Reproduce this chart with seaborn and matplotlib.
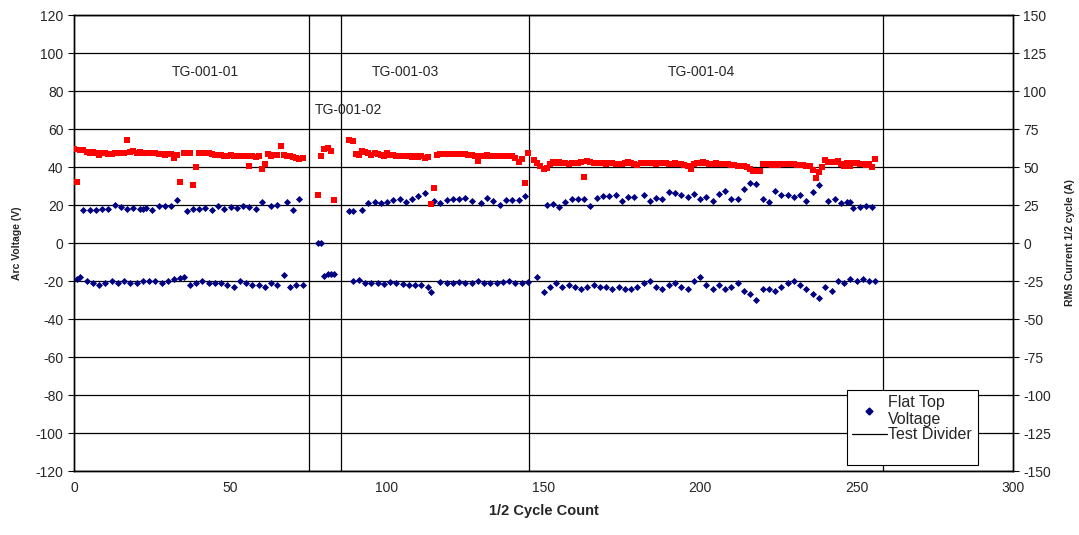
import numpy as np
import pandas as pd
import seaborn as sns
import matplotlib.pyplot as plt
from matplotlib.lines import Line2D
from matplotlib.patches import Rectangle

# Flat top voltage, positive half cycles (V)
pos_x = [3, 5, 7, 9, 11, 13, 15, 17, 19, 21, 22, 23, 25, 27, 29, 31, 33, 36, 38, 40,
         42, 44, 46, 48, 50, 52, 54, 56, 58, 60, 63, 65, 68, 70, 72,
         78, 79,
         88, 89, 92, 94, 96, 98, 100, 102, 104, 106, 108, 110, 112, 115, 117, 119, 121,
         123, 125, 127, 130, 132, 134, 136, 138, 140, 142, 144,
         151, 153, 155, 157, 159, 161, 163, 165, 167, 169, 171, 173, 175, 177, 179, 182,
         184, 186, 188, 190, 192, 194, 196, 198, 200, 202, 204, 206, 208, 210, 212, 214,
         216, 218, 220, 222, 224, 226, 228, 230, 232, 234, 236, 238, 241, 243, 245, 247,
         248, 249, 251, 253, 255]
pos_v = [17.4, 17.4, 17.4, 17.7, 18.0, 20.0, 19.0, 17.7, 18.5, 17.7, 17.9, 18.5, 17.5,
         19.5, 19.6, 19.5, 22.6, 17.0, 17.7, 17.9, 18.3, 17.4, 19.6, 18.0, 18.8, 18.6,
         19.6, 19.0, 17.9, 21.6, 19.5, 20.0, 21.6, 17.4, 23.0,
         0.0, 0.0,
         17.0, 17.0, 17.5, 21.0, 21.6, 20.9, 21.4, 22.5, 23.0, 21.8, 23.0, 25.0, 26.5,
         22.0, 21.0, 22.8, 23.0, 23.0, 23.6, 22.0, 21.0, 23.6, 22.3, 19.8, 22.8, 22.8,
         22.8, 24.5,
         20.0, 20.7, 18.8, 21.4, 23.0, 23.2, 23.4, 19.3, 23.7, 24.7, 24.9, 25.3, 22.1,
         24.2, 24.2, 25.3, 22.3, 23.7, 23.4, 26.8, 26.1, 25.3, 24.0, 25.8, 23.2, 24.2,
         22.1, 26.0, 27.4, 23.2, 23.2, 28.5, 31.4, 30.9, 23.0, 21.6, 27.4, 25.4, 25.4,
         24.0, 25.3, 22.3, 26.8, 30.7, 21.9, 23.0, 20.9, 21.6, 21.6, 18.3, 18.8, 19.7,
         19.1]

# Flat top voltage, negative half cycles (V)
neg_x = [1, 2, 4, 6, 8, 10, 12, 14, 16, 18, 20, 22, 24, 26, 28, 30, 32, 34, 35, 37, 39,
         41, 43, 45, 47, 49, 51, 53, 55, 57, 59, 61, 63, 65, 67, 69, 71, 73,
         80, 81, 82, 83,
         89, 91, 93, 95, 97, 99, 101, 103, 105, 107, 109, 111, 113, 114, 117, 119, 121,
         123, 125, 127, 129, 131, 133, 135, 137, 139, 141, 143, 145,
         148, 150, 152, 154, 156, 158, 160, 162, 164, 166, 168, 170, 172, 174, 176, 178,
         180, 182, 184, 186, 188, 190, 192, 194, 196, 198, 200, 202, 204, 206, 208, 210,
         212, 214, 216, 218, 220, 222, 224, 226, 228, 230, 232, 234, 236, 238, 240, 242,
         244, 246, 248, 250, 252, 254, 256]
neg_v = [-19, -18, -20, -21, -22, -21, -20, -21, -20, -21, -21, -20, -20, -20, -21, -20,
         -19, -18.5, -18, -22, -21, -20, -21, -21, -21, -22, -23, -20, -21, -22, -22, -23,
         -21, -22, -17, -23, -22, -22,
         -17.2, -16.5, -16.3, -16.3,
         -20, -19.5, -21, -21, -21, -21.5, -20.5, -21, -21.5, -22, -22, -22, -23, -26,
         -20.5, -21, -21, -20.5, -21, -21, -20, -21, -21, -21, -20.5, -20, -21, -21, -20.5,
         -18, -26, -23, -21, -23, -22, -23, -24, -23, -22, -23, -23, -24, -23, -24, -24,
         -23, -21, -20, -23, -24, -22, -21, -23, -24, -20, -18, -22, -24, -22, -24, -23,
         -21, -25, -27, -30, -24, -24, -25, -23, -21, -20, -22, -24, -27, -29, -23, -25,
         -20, -21, -19, -20, -19, -20, -20]

# RMS current per half cycle (A), one value per half cycle in each test
rms_start = [0, 78, 88, 147]
rms_a = [
    [62, 40, 61, 61.5, 60, 59, 60, 59.5, 58, 59, 59, 58.5, 58.5, 59, 59, 59.5, 59, 68,
     60, 60.5, 59.5, 60, 59, 59.5, 59, 59.5, 59, 58.5, 58.5, 58, 58.5, 58.5, 56, 58, 40,
     59.5, 59, 59.5, 38, 50, 59.5, 59, 59.5, 59, 58.5, 58, 58, 58, 57.5, 57.5, 58, 57.5,
     57.5, 57, 57, 57, 50.5, 57, 56.5, 57, 49, 52, 58.5, 57.5, 58, 58, 64, 58, 57, 57.5,
     56.5, 56, 55.5, 56],
    [31.6, 57.5, 62, 62.7, 60.7, 28.3],
    [68, 67, 58.5, 58, 60.6, 60, 59.5, 58, 59, 58.5, 58, 57.5, 59, 58, 58, 57.5, 57.5, 57,
     57, 57, 56.5, 57, 56.5, 57.5, 56, 56.5, 25.5, 36, 58, 58.5, 58.5, 58.5, 58.5, 58.5,
     58.5, 58.5, 58.5, 58.5, 58, 58, 57.5, 54, 57, 57.5, 58, 57.5, 57.5, 57.5, 57.5, 57.5,
     57, 57, 57.5, 56, 53.5, 55.5, 39.5, 59],
    [54.6, 52.6, 51, 49, 49.5, 52, 53, 52.5, 53, 52.5, 52.5, 52, 52.5, 52.5, 52.5, 53,
     43.6, 54, 53, 52.5, 52.5, 52.5, 52.5, 52, 52.5, 52.5, 52, 52, 52, 52.5, 53, 52.5, 52,
     51.5, 52.5, 52.5, 52.5, 52.5, 52.5, 52, 52.5, 52.5, 52.5, 52, 52, 52.5, 52, 52, 51.5,
     50.5, 48.5, 52, 52.5, 52.5, 53, 52.5, 52, 52, 52.5, 52, 52, 52, 52, 51.5, 51.5, 51,
     51, 50.5, 50, 48.5, 47.5, 47.5, 47.5, 52, 52, 52, 51.5, 52, 51.5, 52, 52, 52, 52, 52,
     51.5, 51.5, 51.5, 51, 50.5, 48, 42.5, 46.8, 50, 54.6, 53, 53.5, 53, 54, 52, 50.5,
     52.5, 50.5, 52.5, 52.5, 52, 52, 51.5, 52, 50, 55.3],
]

divider_x = [75, 85.3, 145.4, 258.5]
test_names = ["TG-001-01", "TG-001-02", "TG-001-03", "TG-001-04"]
name_x = [42, 77, 106, 200.5]
name_y = [90, 70, 90, 90]

volt_df = pd.DataFrame({"cycle": pos_x + neg_x, "volt": pos_v + neg_v})
rms_df = pd.DataFrame({
    "cycle": np.concatenate([np.arange(s, s + len(a)) for s, a in zip(rms_start, rms_a)]),
    "amps": np.concatenate(rms_a),
})

sns.set_style("white")
plt.rcParams["font.family"] = ["Liberation Sans", "DejaVu Sans"]
plt.rcParams["axes.unicode_minus"] = False

fig = plt.figure(figsize=(10.79, 5.35), dpi=100)
ax = fig.add_axes([0.0686, 0.1196, 0.8703, 0.8523])
ax2 = ax.twinx()

ax.set_xlim(0, 300)
ax.set_ylim(-120, 120)
ax.set_yticks(np.arange(-120, 121, 20))
ax.set_xticks(np.arange(0, 301, 50))
ax.yaxis.grid(True, color="black", lw=0.9)
ax.set_axisbelow(True)

for xd in divider_x:
    ax.plot([xd, xd], [-120, 120], color="black", lw=0.9)

sns.scatterplot(data=volt_df, x="cycle", y="volt", ax=ax, marker="D", s=13,
                color="#000080", edgecolor="#000080", linewidth=0, zorder=3)

ax2.set_ylim(-150, 150)
ax2.set_yticks(np.arange(-150, 151, 25))
sns.scatterplot(data=rms_df, x="cycle", y="amps", ax=ax2, marker="s", s=21,
                color="red", edgecolor="red", linewidth=0, zorder=3)

for nm, xx, yy in zip(test_names, name_x, name_y):
    ax.text(xx, yy, nm, fontsize=10, ha="center" if nm != "TG-001-02" else "left",
            va="center")

for a in (ax, ax2):
    for sp in a.spines.values():
        sp.set_color("black")
        sp.set_linewidth(1)
ax.tick_params(axis="both", labelsize=10, length=4, direction="out", color="black")
ax2.tick_params(axis="y", labelsize=10, length=8, direction="inout", color="black")

ax.set_xlabel("1/2 Cycle Count", fontsize=10.5, fontweight="bold", labelpad=6)
ax.set_ylabel("Arc Voltage (V)", fontsize=7.5, fontweight="bold", labelpad=10)
ax2.set_ylabel("RMS Current 1/2 cycle (A)", fontsize=7.5, fontweight="bold", labelpad=10)

# legend box, taller than its two entries like the reference
ax2.add_patch(Rectangle((0.823, 0.013), 0.14, 0.165, transform=ax2.transAxes,
                        facecolor="white", edgecolor="black", lw=0.8, zorder=4))
handles = [
    Line2D([], [], marker="D", ls="none", color="#000080", ms=3.5),
    Line2D([], [], color="black", lw=0.9),
]
leg = ax2.legend(handles, ["Flat Top\nVoltage", "Test Divider"], loc="upper left",
                 bbox_to_anchor=(0.823, 0.178), fontsize=11.5, frameon=False,
                 labelspacing=0.02, handlelength=2.2, handletextpad=0.1,
                 borderpad=0.3, borderaxespad=0)
leg.set_zorder(5)

fig.savefig("out.png", dpi=100)
